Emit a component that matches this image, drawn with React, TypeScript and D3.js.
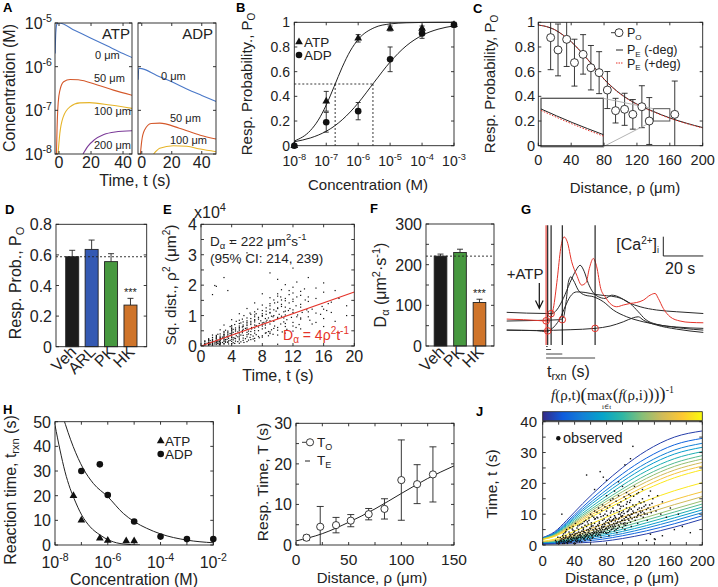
import React from "react";
import * as d3 from "d3";

const FONT = "'Liberation Sans', Arial, Helvetica, sans-serif";
const SERIF = "'Liberation Serif', 'DejaVu Serif', serif";
const INK = "#222";
const RED = "#e5332a";

// ---------- A: modelled nucleotide concentration vs time ----------
const curveLabels = ["0 μm", "50 μm", "100 μm", "200 μm"];
const atp0 = [[-2.4, 2e-6], [-2, 6e-6], [-1.3, 9.5e-6], [0, 1e-5], [10, 6.7e-6], [20, 4.5e-6], [30, 3.0e-6], [40, 2.0e-6], [46, 1.6e-6]];
const atp50 = [[-1.6, 1e-8], [-1.2, 4e-8], [-0.5, 1.5e-7], [0.6, 2.9e-7], [2.9, 4.5e-7], [7, 5.1e-7], [12, 5e-7], [24, 3.8e-7], [34, 2.9e-7], [46, 2.2e-7]];
const atp100 = [[-0.6, 1e-8], [0.5, 2.9e-8], [2.6, 7e-8], [6.8, 1.2e-7], [13, 1.48e-7], [19, 1.5e-7], [32, 1.32e-7], [46, 1.1e-7]];
const atp200 = [[15, 1e-8], [18, 1.5e-8], [22, 2.1e-8], [28, 2.8e-8], [35, 3.2e-8], [46, 3.4e-8]];
const adp0 = [[-2.4, 5e-7], [-2, 9.2e-7], [0, 9e-7], [10, 6.3e-7], [20, 4.5e-7], [30, 3.1e-7], [40, 2.2e-7], [49.5, 1.6e-7]];
const adp50 = [[-0.9, 1e-8], [0, 2e-8], [1.8, 3.5e-8], [6.3, 5e-8], [12, 5.1e-8], [25, 3.9e-8], [39, 2.7e-8], [49.5, 2.2e-8]];
const adp100 = [[7.9, 1e-8], [12, 1.35e-8], [21, 1.55e-8], [30, 1.5e-8], [39, 1.3e-8], [49.5, 1.13e-8]];
const curveColors = ["#4a78c8", "#d4582a", "#e6b428", "#7b3a98"];

// ---------- B: dose response ----------
const concB = [1e-8, 1e-7, 1e-6, 1e-5, 1e-4, 1e-3];
const atpPo = [0, 0.36, 0.87, 0.95, 0.95, 0.98];
const atpPoErr = [0, 0.08, 0.03, 0.02, 0.02, 0.01];
const adpPo = [0, 0.19, 0.28, 0.7, 0.91, 0.98];
const adpPoErr = [0, 0.08, 0.07, 0.1, 0.04, 0.02];
const fitLogC = [-8, -7.5, -7.25, -7, -6.75, -6.5, -6.25, -6, -5.5, -5, -4.5, -4, -3.5, -3];
const atpFit = [0.038, 0.122, 0.207, 0.33, 0.481, 0.636, 0.767, 0.861, 0.956, 0.987, 0.996, 0.999, 1, 1];
const adpFit = [0.032, 0.0625, 0.086, 0.117, 0.158, 0.21, 0.273, 0.346, 0.514, 0.678, 0.808, 0.894, 0.944, 0.971];
const ec50 = [1.9e-7, 2.9e-6];

// ---------- C: response probability vs distance ----------
const distC = [15, 24, 34.5, 44, 54.5, 64, 74, 84, 94, 105, 115, 126, 135, 166];
const poC = [0.876, 0.776, 0.862, 0.673, 0.74, 0.632, 0.592, 0.451, 0.284, 0.295, 0.254, 0.316, 0.2, 0.254];
const poErrC = [0.26, 0.21, 0.22, 0.19, 0.16, 0.18, 0.17, 0.15, 0.1, 0.13, 0.12, 0.17, 0.19, 0.27];
const fitDistC = [0, 10, 20, 30, 40, 50, 60, 70, 80, 90, 100, 110, 120, 130, 140, 150, 160, 170, 180, 190, 200];
const peMinus = [0.978, 0.965, 0.94, 0.897, 0.843, 0.775, 0.7, 0.62, 0.54, 0.475, 0.42, 0.375, 0.337, 0.305, 0.278, 0.25, 0.225, 0.203, 0.183, 0.164, 0.147];
const pePlus = [0.978, 0.965, 0.94, 0.897, 0.843, 0.774, 0.698, 0.618, 0.538, 0.472, 0.417, 0.372, 0.334, 0.302, 0.275, 0.247, 0.222, 0.2, 0.18, 0.161, 0.144];

// ---------- D / F: pharmacology bars ----------
const groupsD = ["Veh", "ARL", "PK", "HK"];
const poD = [0.588, 0.636, 0.556, 0.272];
const poErrD = [0.042, 0.061, 0.052, 0.044];
const groupsF = ["Veh", "PK", "HK"];
const dF = [221, 230, 107];
const dErrF = [5, 8, 8];
const barColor: Record<string, string> = { Veh: "#1c1c1c", ARL: "#3459b3", PK: "#47983f", HK: "#cf742a" };

// ---------- E / J: observed responses (distance μm, time s) ----------
const observed = [
  [18, 0.5], [20, 1], [22, 1.5], [17, 1], [24, 2], [21, 0.5], [19, 2.5], [23, 1], [25, 3], [16, 1.5],
  [27, 0.5], [28, 1], [30, 1.5], [32, 2], [26, 2.5], [33, 1], [29, 3], [34, 3.5], [31, 0.5], [35, 2], [28, 4], [30, 5], [33, 1.5], [26, 1],
  [36, 1], [38, 1.5], [40, 2], [42, 2.5], [44, 3], [37, 3.5], [39, 4], [41, 0.5], [43, 1], [45, 5], [38, 6], [40, 4.5], [42, 2], [36, 2.5], [44, 1.5], [41, 7], [39, 3], [43, 5.5],
  [46, 1], [48, 2], [50, 2.5], [52, 3], [54, 3.5], [47, 4], [49, 4.5], [51, 5], [53, 1.5], [55, 6], [46, 6.5], [48, 3], [50, 7], [52, 2], [54, 8], [47, 2.5], [51, 5.5], [53, 4],
  [56, 2], [58, 3], [60, 3.5], [62, 4], [64, 4.5], [57, 5], [59, 5.5], [61, 6], [63, 2.5], [65, 7], [56, 7.5], [58, 8], [60, 1.5], [62, 3], [64, 9], [57, 4], [61, 6.5], [63, 5],
  [66, 3], [68, 4], [70, 4.5], [72, 5], [74, 5.5], [67, 6], [69, 6.5], [71, 7], [73, 2.5], [75, 8], [66, 8.5], [68, 9], [70, 3.5], [72, 10], [74, 6], [67, 5], [71, 7.5], [73, 4],
  [76, 4], [78, 5], [80, 5.5], [82, 6], [84, 6.5], [77, 7], [79, 7.5], [81, 8], [83, 3], [85, 9], [76, 9.5], [78, 10], [80, 11], [82, 4], [84, 8], [77, 6], [81, 12], [83, 7],
  [86, 5], [88, 6], [90, 6.5], [92, 7], [94, 7.5], [87, 8], [89, 8.5], [91, 9], [93, 4], [95, 10], [86, 11], [88, 12], [90, 9.5], [92, 5], [94, 13], [89, 7],
  [96, 6], [98, 7], [100, 8], [102, 8.5], [104, 9], [97, 10], [99, 10.5], [101, 11], [103, 5], [105, 12], [96, 13], [98, 14], [100, 9.5], [102, 6.5], [104, 15],
  [106, 7], [108, 8], [110, 9], [112, 10], [114, 10.5], [107, 11], [109, 12], [111, 6], [113, 13], [106, 14], [110, 16], [112, 8.5],
  [116, 8], [118, 9], [120, 10], [122, 11], [124, 12], [117, 13], [119, 7], [121, 14], [123, 9.5], [125, 15],
  [126, 9], [128, 10], [130, 11.5], [132, 12], [134, 13], [127, 14], [131, 8], [136, 10.5], [138, 15], [133, 16],
  [142, 11], [145, 12.5], [148, 10], [150, 14], [144, 16],
  [21, 1], [23, 1.5], [25, 0.5], [27, 1.5], [29, 2.5], [31, 1], [33, 2.5], [35, 1], [37, 1.5], [39, 0.5], [41, 1.5], [43, 2], [45, 2.5], [47, 1.5], [49, 1],
  [51, 2], [53, 2.5], [55, 3], [57, 2.5], [59, 2], [61, 3], [63, 3.5], [65, 4], [67, 3.5], [69, 3], [71, 4], [73, 4.5], [75, 5], [77, 4.5], [79, 4],
  [81, 5], [83, 5.5], [85, 6], [87, 6.5], [89, 5.5], [91, 6], [93, 7], [95, 6.5], [97, 7.5], [99, 8], [101, 7], [103, 8], [105, 9], [107, 8.5], [109, 9.5],
  [111, 10], [113, 11], [115, 9], [117, 10.5], [119, 11.5], [121, 12], [123, 10.5], [125, 11], [127, 12.5], [129, 13], [131, 10], [135, 11.5], [137, 13.5], [139, 12],
  [75, 13], [85, 14.5], [95, 16], [105, 17], [115, 19], [90, 17.5], [100, 19], [120, 17], [80, 16], [70, 12], [65, 11], [110, 14.5], [125, 18], [135, 17.5], [60, 10], [88, 15], [98, 12.5],
  [55, 22.7], [72, 23.8], [76, 22], [80, 21], [113, 32], [24, 10], [103, 26], [110, 28], [95, 20.5], [65, 18], [141, 1.8], [130, 1.5], [135, 3.5],
  [150, 3], [165, 5], [175, 6], [185, 4], [140, 2], [155, 9], [160, 12], [170, 10],
  [24, 1.2], [26, 1.8], [28, 2.2], [30, 0.8], [32, 1.2], [34, 2.8], [36, 1.8], [38, 2.2], [40, 3.2], [42, 1.2], [44, 2.2], [46, 3.2], [48, 2.6], [50, 3.6], [52, 4.2],
  [54, 2.8], [56, 3.4], [58, 4.6], [60, 5.2], [62, 2.2], [64, 3.8], [66, 5.4], [68, 4.8], [70, 6.2], [72, 3.2], [74, 4.2], [76, 5.8], [78, 6.6], [80, 3.8], [82, 7.2],
  [84, 4.4], [86, 7.6], [88, 8.2], [90, 4.6], [92, 8.6], [94, 5.4], [96, 8.8], [98, 9.4], [100, 5.6], [102, 10.2], [104, 6.4], [106, 10.8], [108, 11.4], [110, 7.4],
  [33, 4.2], [37, 5.2], [41, 3.6], [45, 4.2], [49, 5.8], [53, 6.4], [57, 6.8], [61, 7.2], [65, 8.4], [69, 8.8], [73, 9.2], [77, 8.4], [81, 9.6], [85, 10.4], [89, 10.8],
  [93, 11.2], [97, 11.8], [101, 12.6], [105, 13.2], [109, 13.8],
  [31, 2.2], [35, 3.2], [39, 2.4], [43, 3.8], [47, 3.4], [51, 4.4], [55, 4.8], [59, 3.8], [63, 6.2], [67, 4.2], [71, 5.4], [75, 6.6], [79, 5.4], [83, 8.4], [87, 5.2],
  [91, 7.8], [95, 8.4], [99, 9.2], [103, 7.2], [107, 9.8], [111, 11.6], [115, 12.4], [119, 9.6], [123, 13.6], [127, 10.4],
  [22, 2.4], [26, 3.6], [29, 4.4], [34, 5.6], [38, 4.8], [44, 6.2], [48, 6.8], [52, 7.6], [58, 8.8], [62, 9.4], [68, 10.6], [74, 11.2], [78, 12.4], [84, 12.8],
  [92, 14.2], [96, 10.8], [102, 15.6], [108, 16.4], [114, 15.8], [118, 16.6],
];
const eFitT = [0, 20];
const eFitRho2 = [0, 17760];

// ---------- G: example calcium traces (time s, ΔF a.u.) ----------
const traceRed = [[0, 1.43], [8.3, 1.4], [15, 1.36], [19.7, 1.34], [21.7, 1.47], [23.3, 1.98], [25.3, 3.53], [27, 5.09], [28.7, 5.69], [30.3, 5.43], [32.5, 4.4], [35, 3.71], [37.5, 3.19], [39.7, 3.33], [41.3, 4.05], [43.3, 4.57], [45, 4.14], [47, 3.02], [49.2, 2.59], [51.7, 2.24], [55, 2.07], [58.3, 2.16], [61.7, 2.24], [65, 2.29], [68.3, 2.41], [71.7, 2.67], [74.2, 2.76], [75.8, 2.5], [78.3, 1.98], [81.7, 1.55], [86.7, 1.33], [91.7, 1.26], [98.3, 1.24]];
const traceB1 = [[0, 1.78], [10, 1.74], [20, 1.72], [22.5, 1.71], [25, 1.9], [28.3, 2.5], [31.7, 3.33], [34.7, 3.97], [36.7, 4.22], [38.7, 3.91], [40.8, 3.28], [43, 2.84], [45.8, 2.59], [49.2, 2.5], [52.5, 2.67], [55.8, 2.59], [60.8, 2.29], [66.7, 2.07], [75, 1.9], [85, 1.81], [98.3, 1.72]];
const traceB2 = [[0, 1.33], [15, 1.36], [26.7, 1.4], [28.3, 1.5], [29.7, 2.33], [30.8, 3.33], [32, 3.62], [33.3, 3.45], [35.8, 2.93], [39.2, 2.67], [43.3, 2.59], [48.3, 2.33], [53.3, 1.9], [60, 1.55], [68.3, 1.29], [78.3, 1.09], [88.3, 0.95], [98.3, 0.86]];
const traceB3 = [[0, 0.86], [15, 0.83], [20, 0.78], [21.7, 0.86], [24.2, 1.09], [26.7, 1.47], [29.2, 2.07], [31.7, 2.59], [35, 2.84], [39.2, 2.81], [44.2, 2.71], [50, 2.64], [55, 2.57], [61.7, 2.24], [65.8, 1.81], [69.2, 1.43], [75, 1.16], [85, 1.02], [98.3, 0.95]];
const traceB4 = [[0, 0.86], [15, 0.84], [31.7, 0.88], [44.2, 0.95], [51.7, 1.07], [58.3, 1.29], [63.3, 1.5], [65.8, 1.55], [68.3, 1.38], [75, 1.12], [85, 0.91], [98.3, 0.74]];
const onsetT = [19.7, 20.5, 22.2, 27.8, 44.2];
const onsetF = [1.34, 0.82, 1.71, 1.4, 0.95];

// ---------- H: reaction time vs concentration ----------
const concHatp = [5e-8, 1e-7, 5e-7, 1e-6, 5e-6, 1e-5];
const trxnAtp = [20, 10, 2.7, 1.8, 1.6, 1.6];
const concHadp = [1e-7, 5e-7, 1e-6, 1e-5, 1e-4, 1e-3, 1e-2];
const trxnAdp = [30, 32.7, 20.3, 9.5, 3.4, 2.4, 2.4];
const fitHatp = [[-8, 48.6], [-7.81, 38.5], [-7.62, 29.7], [-7.43, 23], [-7.28, 18.9], [-6.99, 12.2], [-6.67, 7.4], [-6.3, 4.1], [-5.92, 1.8], [-5.41, 0.4], [-4.78, 0]];
const fitHadp = [[-7.7, 52], [-7.31, 39.9], [-6.93, 31], [-6.55, 25], [-6.0, 19.6], [-5.41, 12.8], [-5.0, 9.5], [-4.53, 6.8], [-4.0, 4.5], [-3.01, 2.0], [-2.0, 0.9]];

// ---------- I: response time vs distance ----------
const distI = [10, 23, 38, 52, 69, 84, 100, 115, 130];
const toI = [1.8, 4.5, 4.9, 6.0, 7.6, 8.9, 16.0, 15.0, 17.4];
const toErrI = [0.6, 5.0, 1.9, 1.5, 1.4, 2.5, 9.9, 4.8, 6.8];
const teDist = [0, 25, 50, 75, 100, 125, 150];
const teI = [1.0, 2.8, 5.6, 8.9, 12.7, 16.4, 19.5];

// ---------- J: normalised response contours ----------
const gridJ = [0, 15, 30, 50, 75, 100, 130, 165, 200];
const jUpper = [
  [2.4, 4.3, 8.0, 13.4, 19.6, 25.1, 30.6, 35.0, 37.0],
  [2.3, 4.0, 7.4, 12.3, 18.0, 23.1, 28.2, 32.5, 34.6],
  [2.2, 3.8, 7.0, 11.6, 16.9, 21.7, 26.6, 30.8, 33.0],
  [2.2, 3.7, 6.6, 11.0, 16.0, 20.6, 25.4, 29.5, 31.7],
  [2.1, 3.5, 6.3, 10.3, 15.0, 19.4, 24.0, 28.0, 30.3],
  [2.0, 3.4, 5.9, 9.7, 14.1, 18.2, 22.7, 26.6, 29.0],
  [2.0, 3.2, 5.6, 9.2, 13.4, 17.3, 21.6, 25.5, 27.9],
  [1.9, 3.1, 5.3, 8.7, 12.6, 16.4, 20.5, 24.3, 26.8],
  [1.9, 2.9, 5.0, 8.2, 11.8, 15.3, 19.3, 23.1, 25.6],
  [1.8, 2.8, 4.7, 7.6, 11.0, 14.3, 18.1, 21.8, 24.4],
];
const jLower = [
  [1.2, 1.9, 3.4, 5.6, 8.5, 11.3, 14.4, 17.6, 20.2],
  [1.0, 1.5, 2.7, 4.4, 6.7, 9.0, 11.7, 14.7, 17.3],
  [0.9, 1.3, 2.3, 3.8, 5.7, 7.8, 10.3, 13.1, 15.7],
  [0.8, 1.1, 2.0, 3.2, 4.9, 6.7, 9.0, 11.7, 14.3],
  [0.7, 1.0, 1.7, 2.8, 4.2, 5.9, 8.1, 10.7, 13.3],
  [0.6, 0.9, 1.5, 2.4, 3.6, 5.1, 7.2, 9.7, 12.3],
  [0.5, 0.7, 1.2, 2.0, 3.1, 4.4, 6.3, 8.8, 11.4],
  [0.5, 0.6, 1.0, 1.6, 2.5, 3.7, 5.5, 7.9, 10.5],
  [0.4, 0.5, 0.8, 1.2, 1.9, 3.0, 4.6, 6.9, 9.5],
  [0.3, 0.35, 0.5, 0.75, 1.2, 2.1, 3.6, 5.8, 8.4],
];
const jUpperLevels = [0.05, 0.15, 0.25, 0.35, 0.45, 0.55, 0.65, 0.75, 0.85, 0.95];
const jLowerLevels = [0.95, 0.85, 0.75, 0.65, 0.55, 0.45, 0.35, 0.25, 0.15, 0.05];
const PARULA = ["#352A87", "#0F5CDD", "#1481D6", "#06A4CA", "#2EB7A4", "#87BF77", "#D1BB59", "#FEC832", "#F9FB0E"];

// ---------- helpers ----------
const lineOf = (xs: any, ys: any) =>
  d3.line<number[]>().x(d => xs(d[0])).y(d => ys(d[1])).curve(d3.curveMonotoneX);

function Frame({ x, y, xt, yt, tl = 3 }: any) {
  const [x0, x1] = x.range();
  const [yb, yt0] = y.range();
  return (
    <g stroke={INK} strokeWidth={0.9} fill="none">
      {xt.map((v: number, i: number) => (
        <path key={"x" + i} d={`M${x(v)},${yb}v${-tl}M${x(v)},${yt0}v${tl}`} />
      ))}
      {yt.map((v: number, i: number) => (
        <path key={"y" + i} d={`M${x0},${y(v)}h${tl}M${x1},${y(v)}h${-tl}`} />
      ))}
      <rect x={x0} y={yt0} width={x1 - x0} height={yb - yt0} />
    </g>
  );
}

function Clip({ id, x, y }: any) {
  const [x0, x1] = x.range();
  const [yb, yt0] = y.range();
  return (
    <clipPath id={id}>
      <rect x={x0} y={yt0} width={x1 - x0} height={yb - yt0} />
    </clipPath>
  );
}

function Pow({ x, y, e, fs, anchor = "middle" }: any) {
  return (
    <text x={x} y={y} fontSize={fs} textAnchor={anchor} fill={INK}>
      10<tspan dy={-fs * 0.42} fontSize={fs * 0.66}>{e}</tspan>
    </text>
  );
}

function YLabel({ x, y, fs, children }: any) {
  return (
    <text transform={`translate(${x},${y}) rotate(-90)`} textAnchor="middle" fontSize={fs} fill={INK}>
      {children}
    </text>
  );
}

function PanelLabel({ x, y, t }: any) {
  return <text x={x} y={y} fontSize={13} fontWeight="bold" fill="#000">{t}</text>;
}

function ErrBar({ x, y0, y1, cap = 3 }: any) {
  return <path d={`M${x - cap},${y0}h${2 * cap}M${x},${y0}V${y1}M${x - cap},${y1}h${2 * cap}`} stroke={INK} strokeWidth={0.9} fill="none" />;
}

const tri = d3.symbol(d3.symbolTriangle, 26)() as string;

// ---------- panels ----------
function PanelA() {
  const y = d3.scaleLog().domain([1e-8, 1e-5]).range([154, 23]);
  const x1 = d3.scaleLinear().domain([-2.5, 45.6]).range([55, 132]);
  const x2 = d3.scaleLinear().domain([-2.5, 49.5]).range([138, 216]);
  const yt = [1e-8, 1e-7, 1e-6, 1e-5];
  const xt = [0, 20, 40];
  const l1 = lineOf(x1, y);
  const l2 = lineOf(x2, y);
  const atp = [atp0, atp50, atp100, atp200];
  const adp = [adp0, adp50, adp100];
  const atpLab = [[95, 59], [94, 82], [94, 115], [94, 149]];
  const adpLab = [[161, 80], [170, 122], [170, 144]];
  return (
    <g>
      <Clip id="ca1" x={x1} y={y} />
      <Clip id="ca2" x={x2} y={y} />
      <g clipPath="url(#ca1)" fill="none" strokeWidth={1.1}>
        {atp.map((c, i) => <path key={i} d={l1(c) as string} stroke={curveColors[i]} />)}
      </g>
      <g clipPath="url(#ca2)" fill="none" strokeWidth={1.1}>
        {adp.map((c, i) => <path key={i} d={l2(c) as string} stroke={curveColors[i]} />)}
      </g>
      <Frame x={x1} y={y} xt={xt} yt={yt} />
      <Frame x={x2} y={y} xt={xt} yt={yt} />
      {yt.map((v, i) => <Pow key={i} x={52} y={y(v) + 6} e={String(Math.round(Math.log10(v)))} fs={16} anchor="end" />)}
      {xt.map(v => <text key={"a" + v} x={x1(v)} y={168} fontSize={16} textAnchor="middle" fill={INK}>{v}</text>)}
      {xt.map(v => <text key={"b" + v} x={x2(v)} y={168} fontSize={16} textAnchor="middle" fill={INK}>{v}</text>)}
      <text x={130} y={39} fontSize={15} textAnchor="end" fill={INK}>ATP</text>
      <text x={213} y={39} fontSize={15} textAnchor="end" fill={INK}>ADP</text>
      {atpLab.map((p, i) => <text key={i} x={p[0]} y={p[1]} fontSize={11} fill={INK}>{curveLabels[i]}</text>)}
      {adpLab.map((p, i) => <text key={i} x={p[0]} y={p[1]} fontSize={11} fill={INK}>{curveLabels[i]}</text>)}
      <text x={135} y={185.5} fontSize={16} textAnchor="middle" fill={INK}>Time, t (s)</text>
      <YLabel x={15} y={88} fs={16}>Concentration (M)</YLabel>
      <PanelLabel x={3} y={12} t="A" />
    </g>
  );
}

function PanelB() {
  const x = d3.scaleLog().domain([1e-8, 1e-3]).range([294.3, 454]);
  const y = d3.scaleLinear().domain([0, 1]).range([145.7, 22.3]);
  const yt = [0, 0.2, 0.4, 0.6, 0.8, 1];
  const l = lineOf(x, y);
  const atpF = fitLogC.map((e, i) => [10 ** e, atpFit[i]]);
  const adpF = fitLogC.map((e, i) => [10 ** e, adpFit[i]]);
  return (
    <g>
      <path d={`M${x(1e-8)},${y(0.5)}H${x(ec50[1])}M${x(ec50[0])},${y(0.5)}V${y(0)}M${x(ec50[1])},${y(0.5)}V${y(0)}`} stroke={INK} strokeDasharray="2,2" strokeWidth={0.9} fill="none" />
      <path d={l(atpF) as string} stroke={INK} fill="none" strokeWidth={1} />
      <path d={l(adpF) as string} stroke={INK} fill="none" strokeWidth={1} />
      <Frame x={x} y={y} xt={concB} yt={yt} />
      {concB.map((c, i) => atpPoErr[i] > 0 && <ErrBar key={"ea" + i} x={x(c)} y0={y(atpPo[i] - atpPoErr[i])} y1={y(atpPo[i] + atpPoErr[i])} cap={2.5} />)}
      {concB.map((c, i) => adpPoErr[i] > 0 && <ErrBar key={"ed" + i} x={x(c)} y0={y(adpPo[i] - adpPoErr[i])} y1={y(adpPo[i] + adpPoErr[i])} cap={2.5} />)}
      {concB.map((c, i) => <path key={"t" + i} d={tri} transform={`translate(${x(c)},${y(atpPo[i])})`} fill="#111" />)}
      {concB.map((c, i) => <circle key={"c" + i} cx={x(c)} cy={y(adpPo[i])} r={3.3} fill="#111" />)}
      {yt.map(v => <text key={v} x={290} y={y(v) + 5} fontSize={14} textAnchor="end" fill={INK}>{v === 0 || v === 1 ? v : v.toFixed(1)}</text>)}
      {concB.map(c => <Pow key={c} x={x(c)} y={166} e={String(Math.round(Math.log10(c)))} fs={14} />)}
      <path d={tri} transform="translate(299,42)" fill="#111" />
      <circle cx={299} cy={55} r={3.3} fill="#111" />
      <text x={304} y={46.5} fontSize={13.5} fill={INK}>ATP</text>
      <text x={304} y={60} fontSize={13.5} fill={INK}>ADP</text>
      <text x={368} y={190} fontSize={15} textAnchor="middle" fill={INK}>Concentration (M)</text>
      <YLabel x={252} y={84} fs={15}>Resp. Probability., P<tspan dy={3} fontSize={10}>O</tspan></YLabel>
      <PanelLabel x={236} y={12} t="B" />
    </g>
  );
}

function PanelC() {
  const x = d3.scaleLinear().domain([0, 200]).range([538.3, 702.7]);
  const y = d3.scaleLinear().domain([0, 1]).range([145.7, 22.3]);
  const xt = [0, 40, 80, 120, 160, 200];
  const yt = [0, 0.2, 0.4, 0.6, 0.8, 1];
  const l = lineOf(x, y);
  const minus = fitDistC.map((d, i) => [d, peMinus[i]]);
  const plus = fitDistC.map((d, i) => [d, pePlus[i]]);
  // inset: zoom of 140–160 μm, 0.2–0.3
  const ix = d3.scaleLinear().domain([140, 160]).range([541, 603.3]);
  const iy = d3.scaleLinear().domain([0.2, 0.3]).range([146.7, 98.3]);
  const il = lineOf(ix, iy);
  const inMinus = minus.filter(p => p[0] >= 140 && p[0] <= 160);
  const inPlus = plus.filter(p => p[0] >= 140 && p[0] <= 160);
  return (
    <g>
      <Clip id="cc" x={x} y={y} />
      <g clipPath="url(#cc)">
        <path d={l(minus) as string} stroke={INK} fill="none" strokeWidth={1} />
        <path d={l(plus) as string} stroke={RED} fill="none" strokeWidth={1} strokeDasharray="1.5,1.5" />
        {distC.map((d, i) => <ErrBar key={i} x={x(d)} y0={y(poC[i] - poErrC[i])} y1={y(poC[i] + poErrC[i])} cap={3} />)}
      </g>
      <rect x={541} y={98.3} width={62.3} height={48.4} fill="#fff" stroke="#555" strokeWidth={1.3} />
      <path d={il(inMinus) as string} stroke={INK} fill="none" strokeWidth={1} />
      <path d={il(inPlus) as string} stroke={RED} fill="none" strokeWidth={1} strokeDasharray="1.5,1.5" />
      <rect x={x(140)} y={y(0.3)} width={x(160) - x(140)} height={y(0.2) - y(0.3)} fill="none" stroke="#555" strokeWidth={1} />
      <path d={`M603.3,98.3L${x(140)},${y(0.3)}M603.3,146.7L${x(140)},${y(0.2)}`} stroke="#aaa" strokeWidth={0.9} />
      {distC.map((d, i) => <circle key={i} cx={x(d)} cy={y(poC[i])} r={4} fill="#fff" stroke={INK} strokeWidth={0.9} />)}
      <Frame x={x} y={y} xt={xt} yt={yt} />
      {yt.map(v => <text key={v} x={535} y={y(v) + 5} fontSize={14.5} textAnchor="end" fill={INK}>{v === 0 || v === 1 ? v : v.toFixed(1)}</text>)}
      {xt.map(v => <text key={v} x={x(v)} y={165} fontSize={14.5} textAnchor="middle" fill={INK}>{v}</text>)}
      <path d="M611,32.7h4" stroke={INK} strokeWidth={0.9} />
      <circle cx={619} cy={32.7} r={4} fill="#fff" stroke={INK} strokeWidth={0.9} />
      <text x={627} y={37} fontSize={12.5} fill={INK}>P<tspan dy={2.5} fontSize={8}>O</tspan></text>
      <path d="M616,50h7" stroke={INK} strokeWidth={1} />
      <text x={627} y={54} fontSize={12.5} fill={INK}>P<tspan dy={2.5} fontSize={8}>E</tspan><tspan dy={-2.5}> (-deg)</tspan></text>
      <path d="M616,63h7" stroke={RED} strokeWidth={1} strokeDasharray="1.5,1" />
      <text x={627} y={67.5} fontSize={12.5} fill={INK}>P<tspan dy={2.5} fontSize={8}>E</tspan><tspan dy={-2.5}> (+deg)</tspan></text>
      <text x={625} y={193} fontSize={15} textAnchor="middle" fill={INK}>Distance, ρ (μm)</text>
      <YLabel x={495} y={84} fs={15}>Resp. Probability, P<tspan dy={3} fontSize={10}>O</tspan></YLabel>
      <PanelLabel x={473} y={13} t="C" />
    </g>
  );
}

function PanelD() {
  const x = d3.scaleBand().domain(groupsD).range([56, 146.7]).paddingInner(0.33).paddingOuter(0.5);
  const y = d3.scaleLinear().domain([0, 0.8]).range([346.7, 224.3]);
  const yt = [0, 0.2, 0.4, 0.6, 0.8];
  const xs = d3.scaleLinear().range([56, 146.7]);
  return (
    <g>
      {groupsD.map((g, i) => (
        <g key={g}>
          <path d={`M${(x(g) as number) + x.bandwidth() / 2},${y(poD[i])}V${y(poD[i] + poErrD[i])}m-3,0h6`} stroke={INK} strokeWidth={0.9} fill="none" />
          <rect x={x(g)} y={y(poD[i])} width={x.bandwidth()} height={y(0) - y(poD[i])} fill={barColor[g]} stroke={INK} strokeWidth={0.9} />
        </g>
      ))}
      <path d={`M56,${y(poD[0])}H146.7`} stroke={INK} strokeDasharray="2,2" strokeWidth={0.9} />
      <text x={(x("HK") as number) + x.bandwidth() / 2} y={y(poD[3] + poErrD[3]) - 2} fontSize={11} textAnchor="middle" fill={INK}>***</text>
      <Frame x={xs} y={y} xt={[]} yt={yt} />
      {yt.map(v => <text key={v} x={52} y={y(v) + 6} fontSize={16} textAnchor="end" fill={INK}>{v === 0 ? 0 : v.toFixed(1)}</text>)}
      {groupsD.map(g => (
        <text key={g} transform={`translate(${(x(g) as number) + x.bandwidth() / 2 + 5},${353}) rotate(-45)`} fontSize={16} textAnchor="end" fill={INK}>{g}</text>
      ))}
      <YLabel x={21} y={283} fs={16}>Resp. Prob., P<tspan dy={3} fontSize={11}>O</tspan></YLabel>
      <PanelLabel x={5} y={214} t="D" />
    </g>
  );
}

function PanelE() {
  const x = d3.scaleLinear().domain([0, 20]).range([201, 354.3]);
  const y = d3.scaleLinear().domain([0, 40000]).range([346, 224.3]);
  const xt = [0, 4, 8, 12, 16, 20];
  const ytk = [0, 5000, 10000, 15000, 20000, 25000, 30000, 35000, 40000];
  const l = d3.line<number>().x(t => x(t)).y((t, i) => y(eFitRho2[i]));
  return (
    <g>
      <Clip id="ce" x={x} y={y} />
      <g clipPath="url(#ce)" fill="#111">
        {observed.map((p, i) => <rect key={i} x={x(p[1]) - 0.6} y={y(p[0] * p[0]) - 0.6} width={1.2} height={1.2} />)}
        <path d={l(eFitT) as string} stroke={RED} strokeWidth={1.1} fill="none" />
      </g>
      <Frame x={x} y={y} xt={xt} yt={ytk} />
      {[0, 1, 2, 3, 4].map(v => <text key={v} x={197} y={y(v * 10000) + 6} fontSize={16} textAnchor="end" fill={INK}>{v}</text>)}
      {xt.map(v => <text key={v} x={x(v)} y={362} fontSize={16} textAnchor="middle" fill={INK}>{v}</text>)}
      <text x={194} y={217.5} fontSize={16} fill={INK}>x10<tspan dy={-7} fontSize={11}>4</tspan></text>
      <text x={210} y={246} fontSize={13.5} fill={INK}>D<tspan dy={3} fontSize={9.5}>α</tspan><tspan dy={-3}> = 222 μm</tspan><tspan dy={-6} fontSize={9.5}>2</tspan><tspan dy={6}>s</tspan><tspan dy={-6} fontSize={9.5}>-1</tspan></text>
      <text x={210} y={263} fontSize={13.5} fill={INK}>(95% CI: 214, 239)</text>
      <text x={283} y={340} fontSize={14} fill={RED}>D<tspan dy={3} fontSize={10}>α</tspan><tspan dy={-3}> = 4ρ</tspan><tspan dy={-6} fontSize={10}>2</tspan><tspan dy={6}>t</tspan><tspan dy={-6} fontSize={10}>-1</tspan></text>
      <text x={278} y={381} fontSize={16} textAnchor="middle" fill={INK}>Time, t (s)</text>
      <YLabel x={176} y={285} fs={15.5}>Sq. dist., ρ<tspan dy={-6} fontSize={10}>2</tspan><tspan dy={6}> (μm</tspan><tspan dy={-6} fontSize={10}>2</tspan><tspan dy={6}>)</tspan></YLabel>
      <PanelLabel x={163} y={214} t="E" />
    </g>
  );
}

function PanelF() {
  const x = d3.scaleBand().domain(groupsF).range([426, 494]).paddingInner(0.35).paddingOuter(0.42);
  const y = d3.scaleLinear().domain([0, 300]).range([346, 224]);
  const xs = d3.scaleLinear().range([426, 494]);
  const ytk = [0, 50, 100, 150, 200, 250, 300];
  return (
    <g>
      {groupsF.map((g, i) => (
        <g key={g}>
          <path d={`M${(x(g) as number) + x.bandwidth() / 2},${y(dF[i])}V${y(dF[i] + dErrF[i])}m-3,0h6`} stroke={INK} strokeWidth={0.9} fill="none" />
          <rect x={x(g)} y={y(dF[i])} width={x.bandwidth()} height={y(0) - y(dF[i])} fill={barColor[g]} stroke={INK} strokeWidth={0.9} />
        </g>
      ))}
      <path d={`M426,${y(dF[0])}H494`} stroke={INK} strokeDasharray="2,2" strokeWidth={0.9} />
      <text x={(x("HK") as number) + x.bandwidth() / 2} y={y(dF[2] + dErrF[2]) - 2} fontSize={11} textAnchor="middle" fill={INK}>***</text>
      <Frame x={xs} y={y} xt={[]} yt={ytk} />
      {[0, 100, 200, 300].map(v => <text key={v} x={422} y={y(v) + 6} fontSize={16} textAnchor="end" fill={INK}>{v}</text>)}
      {groupsF.map(g => (
        <text key={g} transform={`translate(${(x(g) as number) + x.bandwidth() / 2 + 5},${353}) rotate(-45)`} fontSize={16} textAnchor="end" fill={INK}>{g}</text>
      ))}
      <YLabel x={386} y={285} fs={16}>D<tspan dy={3} fontSize={11}>α</tspan><tspan dy={-3}> (μm</tspan><tspan dy={-6} fontSize={11}>2</tspan><tspan dy={6}>·s</tspan><tspan dy={-6} fontSize={11}>-1</tspan><tspan dy={6}>)</tspan></YLabel>
      <PanelLabel x={370} y={213} t="F" />
    </g>
  );
}

function PanelG() {
  const x = d3.scaleLinear().domain([0, 98.3]).range([506.7, 703.3]);
  const y = d3.scaleLinear().domain([0, 6.3]).range([346.7, 225.1]);
  const l = lineOf(x, y);
  const blacks = [traceB1, traceB2, traceB3, traceB4];
  const barY = [346.5, 349.5, 354, 358];
  return (
    <g>
      {blacks.map((t, i) => <path key={i} d={l(t) as string} stroke="#2a2a2a" fill="none" strokeWidth={1} />)}
      <path d={l(traceRed) as string} stroke={RED} fill="none" strokeWidth={1} />
      {onsetT.map((t, i) => (
        <path key={i} d={`M${x(t)},${y(6.29)}V${y(0.09)}`} stroke={i === 0 ? RED : "#111"} strokeWidth={1.1} />
      ))}
      {onsetT.map((t, i) => <circle key={i} cx={x(t)} cy={y(onsetF[i])} r={3.3} fill="none" stroke={RED} strokeWidth={1} />)}
      {onsetT.slice(1).map((t, i) => (
        <path key={i} d={`M${x(onsetT[0])},${barY[i]}H${x(t)}`} stroke="#444" strokeWidth={1} />
      ))}
      <text x={547} y={376.7} fontSize={16} fill={INK}>t<tspan dy={3} fontSize={11}>rxn</tspan><tspan dy={-3}> (s)</tspan></text>
      <text x={506.7} y={279} fontSize={15} fill={INK}>+ATP</text>
      <path d="M539.3,283V308M535.5,300.5L539.3,308.3L543.1,300.5" stroke="#111" strokeWidth={1.2} fill="none" />
      <path d={`M${x(78.3)},${y(5.7)}V${y(4.7)}H${x(98.3)}`} stroke={INK} strokeWidth={1} fill="none" />
      <text x={659} y={250} fontSize={16} textAnchor="end" fill={INK}>[Ca<tspan dy={-6} fontSize={10}>2+</tspan><tspan dy={6}>]</tspan><tspan dy={3} fontSize={9}>i</tspan></text>
      <text x={665} y={274} fontSize={16} fill={INK}>20 s</text>
      <PanelLabel x={521} y={214} t="G" />
    </g>
  );
}

function PanelH() {
  const x = d3.scaleLog().domain([1e-8, 1e-2]).range([55, 213.3]);
  const y = d3.scaleLinear().domain([0, 50]).range([545, 421.7]);
  const xt = [1e-8, 1e-7, 1e-6, 1e-5, 1e-4, 1e-3, 1e-2];
  const yt = [0, 10, 20, 30, 40, 50];
  const l = lineOf(x, y);
  const fa = fitHatp.map(p => [10 ** p[0], p[1]]);
  const fd = fitHadp.map(p => [10 ** p[0], p[1]]);
  return (
    <g>
      <Clip id="ch" x={x} y={y} />
      <g clipPath="url(#ch)">
        <path d={l(fa) as string} stroke={INK} fill="none" strokeWidth={1} />
        <path d={l(fd) as string} stroke={INK} fill="none" strokeWidth={1} />
      </g>
      <Frame x={x} y={y} xt={xt} yt={yt} />
      {concHatp.map((c, i) => <path key={i} d={tri} transform={`translate(${x(c)},${y(trxnAtp[i])})`} fill="#111" />)}
      {concHadp.map((c, i) => <circle key={i} cx={x(c)} cy={y(trxnAdp[i])} r={3.3} fill="#111" />)}
      {yt.map(v => <text key={v} x={51} y={y(v) + 6} fontSize={16} textAnchor="end" fill={INK}>{v}</text>)}
      {[1e-8, 1e-6, 1e-4, 1e-2].map(c => <Pow key={c} x={x(c)} y={567.5} e={String(Math.round(Math.log10(c)))} fs={16} />)}
      <path d={tri} transform="translate(160.7,441)" fill="#111" />
      <circle cx={160.7} cy={454} r={3.3} fill="#111" />
      <text x={165} y={445.5} fontSize={13.5} fill={INK}>ATP</text>
      <text x={165} y={459} fontSize={13.5} fill={INK}>ADP</text>
      <text x={134} y={584.5} fontSize={16} textAnchor="middle" fill={INK}>Concentration (M)</text>
      <YLabel x={16} y={490} fs={16}>Reaction time, t<tspan dy={3} fontSize={11}>rxn</tspan><tspan dy={-3}> (s)</tspan></YLabel>
      <PanelLabel x={3} y={414} t="H" />
    </g>
  );
}

function PanelI() {
  const x = d3.scaleLinear().domain([0, 150]).range([296, 454]);
  const y = d3.scaleLinear().domain([0, 30]).range([545, 423.3]);
  const xt = [0, 25, 50, 75, 100, 125, 150];
  const yt = [0, 5, 10, 15, 20, 25, 30];
  const l = lineOf(x, y);
  const te = teDist.map((d, i) => [d, teI[i]]);
  return (
    <g>
      <Clip id="ci" x={x} y={y} />
      <g clipPath="url(#ci)">
        <path d={l(te) as string} stroke={INK} fill="none" strokeWidth={1} />
        {distI.map((d, i) => <ErrBar key={i} x={x(d)} y0={y(toI[i] - toErrI[i])} y1={y(toI[i] + toErrI[i])} cap={3.5} />)}
      </g>
      {distI.map((d, i) => <circle key={i} cx={x(d)} cy={y(toI[i])} r={3.6} fill="#fff" stroke={INK} strokeWidth={0.9} />)}
      <Frame x={x} y={y} xt={xt} yt={yt} />
      {[0, 10, 20, 30].map(v => <text key={v} x={292} y={y(v) + 6} fontSize={16} textAnchor="end" fill={INK}>{v}</text>)}
      {[0, 50, 100, 150].map(v => <text key={v} x={x(v)} y={565} fontSize={15.5} textAnchor="middle" fill={INK}>{v}</text>)}
      <path d="M302,442.3h4" stroke={INK} strokeWidth={0.9} />
      <circle cx={310} cy={442.3} r={3.6} fill="#fff" stroke={INK} strokeWidth={0.9} />
      <text x={317} y={447} fontSize={13.5} fill={INK}>T<tspan dy={3} fontSize={9}>O</tspan></text>
      <path d="M305,461h5" stroke={INK} strokeWidth={1} />
      <text x={317} y={465} fontSize={13.5} fill={INK}>T<tspan dy={3} fontSize={9}>E</tspan></text>
      <text x={372} y={583} fontSize={15} textAnchor="middle" fill={INK}>Distance, ρ (μm)</text>
      <YLabel x={268} y={482} fs={15.5}>Resp. Time, T (s)</YLabel>
      <PanelLabel x={237} y={414} t="I" />
    </g>
  );
}

function PanelJ() {
  const x = d3.scaleLinear().domain([0, 200]).range([542.7, 702.3]);
  const y = d3.scaleLinear().domain([0, 40]).range([545, 421.7]);
  const xt = [0, 20, 40, 60, 80, 100, 120, 140, 160, 180, 200];
  const yt = [0, 5, 10, 15, 20, 25, 30, 35, 40];
  const color = d3.scaleLinear<string>().domain(PARULA.map((_, i) => i / (PARULA.length - 1))).range(PARULA);
  const l = lineOf(x, y);
  return (
    <g>
      <defs>
        <linearGradient id="parula" x1="0" x2="1" y1="0" y2="0">
          {PARULA.map((c, i) => <stop key={i} offset={i / (PARULA.length - 1)} stopColor={c} />)}
        </linearGradient>
      </defs>
      <rect x={542.7} y={411.7} width={159.6} height={9} fill="url(#parula)" stroke={INK} strokeWidth={0.8} />
      <Clip id="cj" x={x} y={y} />
      <g clipPath="url(#cj)" fill="none" strokeWidth={1}>
        {jUpper.map((c, i) => <path key={"u" + i} d={l(gridJ.map((g, k) => [g, c[k]])) as string} stroke={color(jUpperLevels[i])} />)}
        {jLower.map((c, i) => <path key={"l" + i} d={l(gridJ.map((g, k) => [g, c[k]])) as string} stroke={color(jLowerLevels[i])} />)}
        <g fill="#111">
          {observed.map((p, i) => <rect key={i} x={x(p[0]) - 0.7} y={y(p[1]) - 0.7} width={1.4} height={1.4} />)}
        </g>
      </g>
      <Frame x={x} y={y} xt={xt} yt={yt} />
      {[0, 10, 20, 30, 40].map(v => <text key={v} x={537} y={y(v) + 5.5} fontSize={15} textAnchor="end" fill={INK}>{v}</text>)}
      {[0, 40, 80, 120, 160, 200].map(v => <text key={v} x={x(v)} y={566} fontSize={15} textAnchor="middle" fill={INK}>{v}</text>)}
      <circle cx={558.3} cy={438.3} r={2.2} fill="#111" />
      <text x={563} y={443} fontSize={14.5} fill={INK}>observed</text>
      <text x={551} y={400} fontSize={15} fontFamily={SERIF} fill={INK}>
        <tspan fontStyle="italic">f</tspan>(ρ,t)<tspan fontSize={19} dy={1}>(</tspan><tspan dy={-1}>max</tspan><tspan fontSize={17}>(</tspan><tspan fontStyle="italic">f</tspan>(ρ,i)<tspan fontSize={17}>))</tspan><tspan fontSize={19}>)</tspan><tspan dy={-7} fontSize={10}>-1</tspan>
      </text>
      <text x={602} y={408.5} fontSize={7} fontFamily={SERIF} fill={INK}>i∈t</text>
      <text x={622} y={583} fontSize={15.5} textAnchor="middle" fill={INK}>Distance, ρ (μm)</text>
      <YLabel x={497} y={484} fs={15.5}>Time, t (s)</YLabel>
      <PanelLabel x={476} y={416} t="J" />
    </g>
  );
}

export default function App() {
  return (
    <svg width={718} height={587} viewBox="0 0 718 587" fontFamily={FONT}
      style={{ position: "absolute", left: 0, top: 0, display: "block", background: "#fff" }}>
      <rect width={718} height={587} fill="#fff" />
      <PanelA />
      <PanelB />
      <PanelC />
      <PanelD />
      <PanelE />
      <PanelF />
      <PanelG />
      <PanelH />
      <PanelI />
      <PanelJ />
    </svg>
  );
}
